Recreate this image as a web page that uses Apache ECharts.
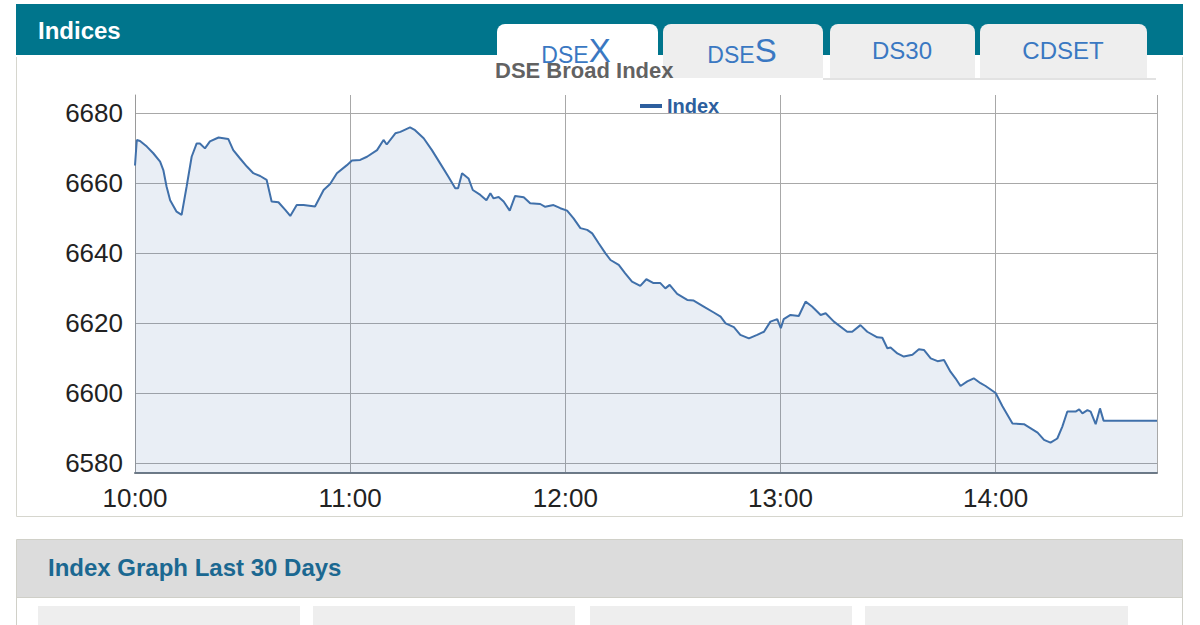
<!DOCTYPE html>
<html>
<head>
<meta charset="utf-8">
<script src="https://cdn.jsdelivr.net/npm/echarts@6/dist/echarts.min.js"></script>
<style>
html,body{margin:0;padding:0;background:#fff;}
#c{width:1200px;height:625px;}
</style>
</head>
<body>
<div id="c"></div>
<script>
// minutes after 10:00
const times = [0,0.5,1.4,3.3,5.1,7.0,7.9,8.8,9.8,11.6,13.0,14.4,15.8,17.2,18.1,19.5,20.9,23.3,26.0,27.4,29.3,31.2,33.0,34.9,36.7,38.1,40.0,41.9,43.3,45.1,47.0,50.2,52.6,54.4,56.3,59.1,60.5,62.8,64.7,67.5,69.3,70.2,72.6,74.0,76.7,78.1,80.5,82.8,85.1,87.4,89.3,90.1,91.2,93.0,94.2,96.3,98.0,99.1,100.0,101.4,102.8,104.5,106.0,108.4,110.2,113.0,114.4,116.7,118.6,120.5,122.3,124.2,126.1,127.5,129.3,131.2,132.6,134.9,136.7,138.6,140.9,142.6,144.6,146.5,147.9,149.1,151.2,154.0,155.8,158.6,161.4,163.3,164.7,167.0,168.8,171.2,173.5,175.4,177.2,179.1,180.1,180.9,182.8,185.1,187.0,188.8,191.2,192.6,194.9,198.6,200.0,202.3,204.2,207.0,208.4,209.8,210.7,212.6,214.4,216.8,218.6,220.0,221.9,223.8,225.6,227.4,228.8,230.2,232.1,233.9,235.8,237.2,240.0,241.9,244.7,247.9,249.8,251.7,253.5,255.3,257.2,258.6,260.0,262.3,263.3,264.2,265.6,266.5,267.9,269.1,270.1,285];
const values = [6665,6672.3,6672,6670.4,6668.5,6666.1,6663.7,6659,6655.1,6651.8,6650.9,6659,6667.5,6671.3,6671.3,6669.9,6671.9,6673,6672.6,6669.4,6667,6664.7,6662.8,6662,6660.9,6654.7,6654.5,6652.3,6650.6,6653.7,6653.7,6653.3,6658,6659.7,6662.8,6665.1,6666.4,6666.6,6667.5,6669.4,6672.3,6671,6674.2,6674.6,6675.9,6675.1,6672.8,6669.4,6665.6,6661.8,6658.5,6658.5,6662.8,6661.3,6658,6656.6,6655.1,6657.1,6655.6,6656,6654.7,6652.1,6656.3,6655.9,6654.2,6654,6653.2,6653.7,6652.8,6652.1,6649.9,6647.1,6646.6,6645.6,6642.8,6639.9,6638,6636.6,6634.2,6631.8,6630.6,6632.5,6631.4,6631.4,6629.9,6630.9,6628.3,6626.6,6626.4,6624.7,6623,6621.8,6619.9,6618.8,6616.6,6615.6,6616.6,6617.5,6620.4,6621.1,6618.5,6621.1,6622.3,6622,6626.1,6624.7,6622.3,6622.8,6620.4,6617.5,6617.5,6619.4,6617.5,6615.9,6615.8,6612.8,6613,6611.3,6610.4,6610.9,6612.5,6612.3,6609.9,6609.1,6609.4,6606.1,6604.2,6602,6603.3,6604.2,6602.8,6602,6600,6596.2,6591.3,6591.1,6589.9,6588.7,6586.6,6585.8,6587,6590.4,6594.7,6594.7,6595.3,6594.2,6595.1,6594.7,6591.1,6595.6,6592.1,6592.1];
const xTickLabels = ['10:00','11:00','12:00','13:00','14:00'];
const yTicks = [6580,6600,6620,6640,6660,6680];
const tabs = ['DSEX','DSES','DS30','CDSET'];
const seriesName = 'Index';
const chartTitle = 'DSE Broad Index';
const panelTitle = 'Indices';
const lowerTitle = 'Index Graph Last 30 Days';

const data = times.map((t,i)=>[t, values[i]]);
const FONT = 'Arial, "Liberation Sans", sans-serif';
const chart = echarts.init(document.getElementById('c'), null, {renderer:'svg', width:1200, height:625});

const tabColor = '#3a78c2';
const richTab = {a:{fontSize:23, fontFamily:FONT, fill:tabColor, color:tabColor, verticalAlign:'bottom'},
                 b:{fontSize:33, fontFamily:FONT, fill:tabColor, color:tabColor, verticalAlign:'bottom'}};
const graphic = [
  {type:'rect', z:-20, shape:{x:16.5,y:50.5,width:1166,height:466}, style:{fill:'#fff', stroke:'#d6d6ce', lineWidth:1}},
  {type:'rect', z:-19, shape:{x:16,y:4,width:1167,height:51}, style:{fill:'#00758c'}},
  {type:'rect', z:-19, shape:{x:16,y:55,width:1167,height:2}, style:{fill:'#fff'}},
  {type:'text', z:-18, x:38, y:30, style:{text:panelTitle, fill:'#fff', font:'bold 24px '+FONT, textVerticalAlign:'middle'}},
  {type:'rect', z:-18, shape:{x:497,y:24,width:161,height:60,r:[8,8,0,0]}, style:{fill:'#fff'}},
  {type:'rect', z:-18, shape:{x:663,y:24,width:160,height:54,r:[8,8,0,0]}, style:{fill:'#eeeeee'}},
  {type:'rect', z:-18, shape:{x:830,y:24,width:145,height:54,r:[8,8,0,0]}, style:{fill:'#eeeeee'}},
  {type:'rect', z:-18, shape:{x:980,y:24,width:167,height:54,r:[8,8,0,0]}, style:{fill:'#eeeeee'}},
  {type:'rect', z:-18, shape:{x:823,y:78,width:333,height:2}, style:{fill:'#e2e2e2'}},
  {type:'text', z:-17, x:576, y:50, style:{text:'{a|'+tabs[0].slice(0,3)+'}{b|'+tabs[0].slice(3)+'}', align:'center', verticalAlign:'middle', rich:richTab}},
  {type:'text', z:-17, x:742, y:50, style:{text:'{a|'+tabs[1].slice(0,3)+'}{b|'+tabs[1].slice(3)+'}', align:'center', verticalAlign:'middle', rich:richTab}},
  {type:'text', z:-17, x:902, y:50, style:{text:tabs[2], fill:tabColor, font:'24px '+FONT, align:'center', verticalAlign:'middle'}},
  {type:'text', z:-17, x:1063, y:50, style:{text:tabs[3], fill:tabColor, font:'24px '+FONT, align:'center', verticalAlign:'middle'}},
  {type:'rect', z:-20, shape:{x:16.5,y:539.5,width:1166,height:100}, style:{fill:'#fff', stroke:'#d0d0c8', lineWidth:1}},
  {type:'rect', z:-19, shape:{x:17,y:540,width:1165,height:57}, style:{fill:'#dcdcdc'}},
  {type:'rect', z:-19, shape:{x:17,y:597,width:1165,height:1}, style:{fill:'#cfcfc8'}},
  {type:'text', z:-18, x:48, y:567, style:{text:lowerTitle, fill:'#1b6891', font:'bold 24px '+FONT, textVerticalAlign:'middle'}},
  {type:'rect', z:-19, shape:{x:38,y:606,width:262,height:30}, style:{fill:'#eeeeee'}},
  {type:'rect', z:-19, shape:{x:313,y:606,width:262,height:30}, style:{fill:'#eeeeee'}},
  {type:'rect', z:-19, shape:{x:590,y:606,width:262,height:30}, style:{fill:'#eeeeee'}},
  {type:'rect', z:-19, shape:{x:865,y:606,width:263,height:30}, style:{fill:'#eeeeee'}}
];

const option = {
  animation:false,
  backgroundColor:'#ffffff',
  textStyle:{fontFamily:FONT},
  graphic: graphic,
  title:{text:chartTitle, left:495, top:59, padding:0,
    textStyle:{fontSize:22, fontWeight:'bold', color:'rgba(70,70,70,0.85)', fontFamily:FONT}},
  legend:{data:[seriesName], left:640, top:96, padding:0, itemGap:4, icon:'rect', itemWidth:22, itemHeight:4,
    textStyle:{fontSize:20, fontWeight:'bold', color:'#2d5f9e', fontFamily:FONT}},
  grid:[
    {left:135, right:43, top:95, height:378},
    {left:135, right:43, top:113, height:350}
  ],
  xAxis:[
    {type:'value', gridIndex:0, min:0, max:285, interval:60,
      axisLine:{show:true, lineStyle:{color:'#6f7a85', width:2}},
      axisTick:{show:false},
      splitLine:{show:true, lineStyle:{color:'#a8a8a8', width:1}},
      axisLabel:{margin:12, fontSize:26, color:'#222', fontFamily:FONT,
        formatter:(v)=>{const i=Math.round(v/60); return (v%60===0 && xTickLabels[i])?xTickLabels[i]:'';},
        showMaxLabel:false}
    },
    {type:'value', gridIndex:1, min:0, max:285, show:false}
  ],
  yAxis:[
    {type:'value', gridIndex:0, min:6580-10/3.5, max:6680+18/3.5,
      axisLine:{show:true, lineStyle:{color:'#9a9a9a', width:1}},
      axisTick:{show:false}, axisLabel:{show:false}, splitLine:{show:false}},
    {type:'value', gridIndex:1, min:yTicks[0], max:yTicks[yTicks.length-1], interval:20,
      axisLine:{show:false}, axisTick:{show:false},
      splitLine:{show:true, lineStyle:{color:'#a8a8a8', width:1}},
      axisLabel:{margin:12, fontSize:26, color:'#222', fontFamily:FONT, formatter:(v)=>String(v)}}
  ],
  series:[{
    name:seriesName, type:'line', xAxisIndex:0, yAxisIndex:0, data:data,
    showSymbol:false, symbol:'none', smooth:false,
    lineStyle:{color:'#4070aa', width:2},
    itemStyle:{color:'#2d5f9e'},
    areaStyle:{color:'rgba(69,114,167,0.17)'},
    z:3
  }]
};
chart.setOption(option);
</script>
</body>
</html>
